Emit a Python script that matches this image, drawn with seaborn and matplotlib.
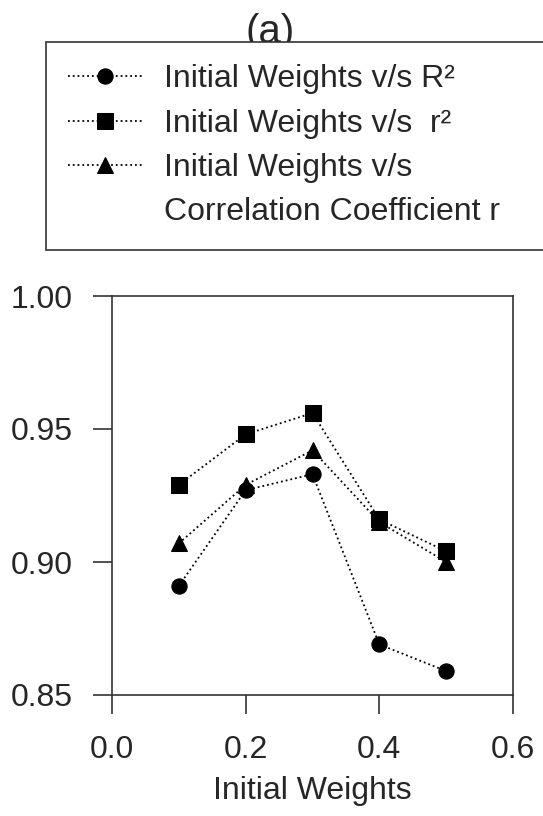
import seaborn as sns
import matplotlib.pyplot as plt
from matplotlib.lines import Line2D
import pandas as pd

# data
weights = [0.1, 0.2, 0.3, 0.4, 0.5]
big_r2 = [0.891, 0.927, 0.933, 0.869, 0.859]
small_r2 = [0.929, 0.948, 0.956, 0.916, 0.904]
corr_r = [0.907, 0.929, 0.942, 0.915, 0.900]
labels = ['Initial Weights v/s R\u00b2',
          'Initial Weights v/s  r\u00b2',
          'Initial Weights v/s']
extra_label = 'Correlation Coefficient r'
markers = ['o', 's', '^']

sns.set_style('ticks')
plt.rcParams['font.family'] = ['Liberation Sans', 'DejaVu Sans']

fig = plt.figure(figsize=(5.43, 8.16), dpi=100)
ax = fig.add_axes([112/543, 1-695/816, (513-112)/543, (695-296)/816])

for vals, lab, mk in zip([big_r2, small_r2, corr_r], labels, markers):
    d = pd.DataFrame({'w': weights, 'v': vals})
    sns.lineplot(data=d, x='w', y='v', ax=ax, color='black', linestyle=':',
                 linewidth=1.3, marker=mk, markersize=11, markeredgecolor='black',
                 label=lab)

ax.set_xlim(0.0, 0.6)
ax.set_ylim(0.85, 1.00)
ax.set_xticks([0.0, 0.2, 0.4, 0.6])
ax.set_yticks([0.85, 0.90, 0.95, 1.00])
ax.set_xticklabels(['0.0', '0.2', '0.4', '0.6'])
ax.set_yticklabels(['0.85', '0.90', '0.95', '1.00'])
ax.tick_params(direction='out', length=14, width=1.2, labelsize=23, color='#333333')
ax.tick_params(axis='x', pad=15)
ax.tick_params(axis='y', pad=14)
for s in ax.spines.values():
    s.set_linewidth(1.2)
    s.set_color('#333333')
ax.set_xlabel('Initial Weights', fontsize=23, labelpad=8)
ax.set_ylabel('')

handles, labs = ax.get_legend_handles_labels()
ax.get_legend().remove()
handles.append(Line2D([], [], linestyle='none', marker=None))
labs.append(extra_label)

fig.text(270/543, 1-32/816, '(a)', fontsize=29, ha='center', va='center')
leg = fig.legend(handles, labs, loc='upper left',
                 bbox_to_anchor=(46/543, 1-42/816, 520/543, 0.0), mode='expand',
                 fontsize=23, frameon=True, fancybox=False, edgecolor='#333333',
                 handlelength=2.3, handletextpad=0.7, labelspacing=0.45,
                 borderpad=0.7, borderaxespad=0)
leg.get_frame().set_linewidth(1.2)
leg.get_frame().set_alpha(1)

fig.savefig('out.png', dpi=100)
